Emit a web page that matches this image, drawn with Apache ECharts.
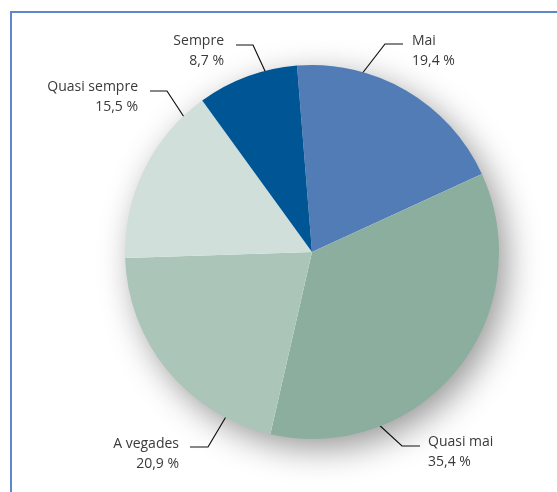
<!DOCTYPE html>
<html>
<head>
<meta charset="utf-8">
<script src="https://cdn.jsdelivr.net/npm/echarts@6/dist/echarts.min.js"></script>
<style>
  html, body { margin: 0; padding: 0; background: #fff; }
  #frame { position: absolute; left: 10px; top: 11px; width: 600px; height: 600px; border: 2px solid #5e87cc; box-sizing: border-box; }
  #pie { position: absolute; left: 0; top: 0; width: 557px; height: 492px; }
</style>
</head>
<body>
<div id="frame"></div>
<div id="pie"></div>
<script>
  var categories = ['Mai', 'Quasi mai', 'A vegades', 'Quasi sempre', 'Sempre'];
  var percents = [19.4, 35.4, 20.9, 15.5, 8.7];
  var colors = ['#517cb5', '#8cae9f', '#acc5b9', '#d0dfd9', '#005595'];

  // label anchor + leader line for each slice
  var labelPlaces = [
    { x: 412, y: 51, align: 'left', line: [[361, 75], [385, 44], [403, 44]] },
    { x: 428, y: 452, align: 'left', line: [[377, 423], [402, 446], [420, 446]] },
    { x: 179, y: 454, align: 'right', line: [[227, 415], [208, 447], [190, 447]] },
    { x: 138, y: 97, align: 'right', line: [[186, 120], [167, 91], [150, 91]] },
    { x: 224, y: 51, align: 'right', line: [[271, 84], [253, 45], [236, 45]] }
  ];

  var seriesData = [];
  for (var i = 0; i < categories.length; i++) {
    seriesData.push({
      name: categories[i],
      value: percents[i],
      itemStyle: { color: colors[i] }
    });
  }

  var chart = echarts.init(document.getElementById('pie'));
  chart.setOption({
    animation: false,
    series: [
      {
        // soft shadow under the whole disc
        type: 'pie',
        silent: true,
        z: 1,
        center: [312, 252],
        radius: 186,
        startAngle: 94.6,
        label: { show: false },
        labelLine: { show: false },
        itemStyle: {
          color: '#ffffff',
          shadowBlur: 34,
          shadowOffsetX: 8,
          shadowOffsetY: 10,
          shadowColor: 'rgba(0,0,0,0.42)'
        },
        data: [{ value: 1 }]
      },
      {
        type: 'pie',
        z: 2,
        center: [312, 252],
        radius: 187,
        startAngle: 94.6,
        clockwise: true,
        avoidLabelOverlap: false,
        itemStyle: { borderWidth: 0 },
        label: {
          show: true,
          fontFamily: 'Open Sans',
          fontSize: 14,
          lineHeight: 20,
          color: '#3a3a3a',
          formatter: function (p) {
            return p.name + '\n' + p.value.toFixed(1).replace('.', ',') + ' %';
          }
        },
        labelLine: {
          show: true,
          lineStyle: { color: '#111111', width: 1.2 }
        },
        labelLayout: function (params) {
          var lp = labelPlaces[params.dataIndex];
          return {
            x: lp.x,
            y: lp.y,
            align: lp.align,
            verticalAlign: 'middle',
            labelLinePoints: lp.line
          };
        },
        data: seriesData
      }
    ]
  });
</script>
</body>
</html>
